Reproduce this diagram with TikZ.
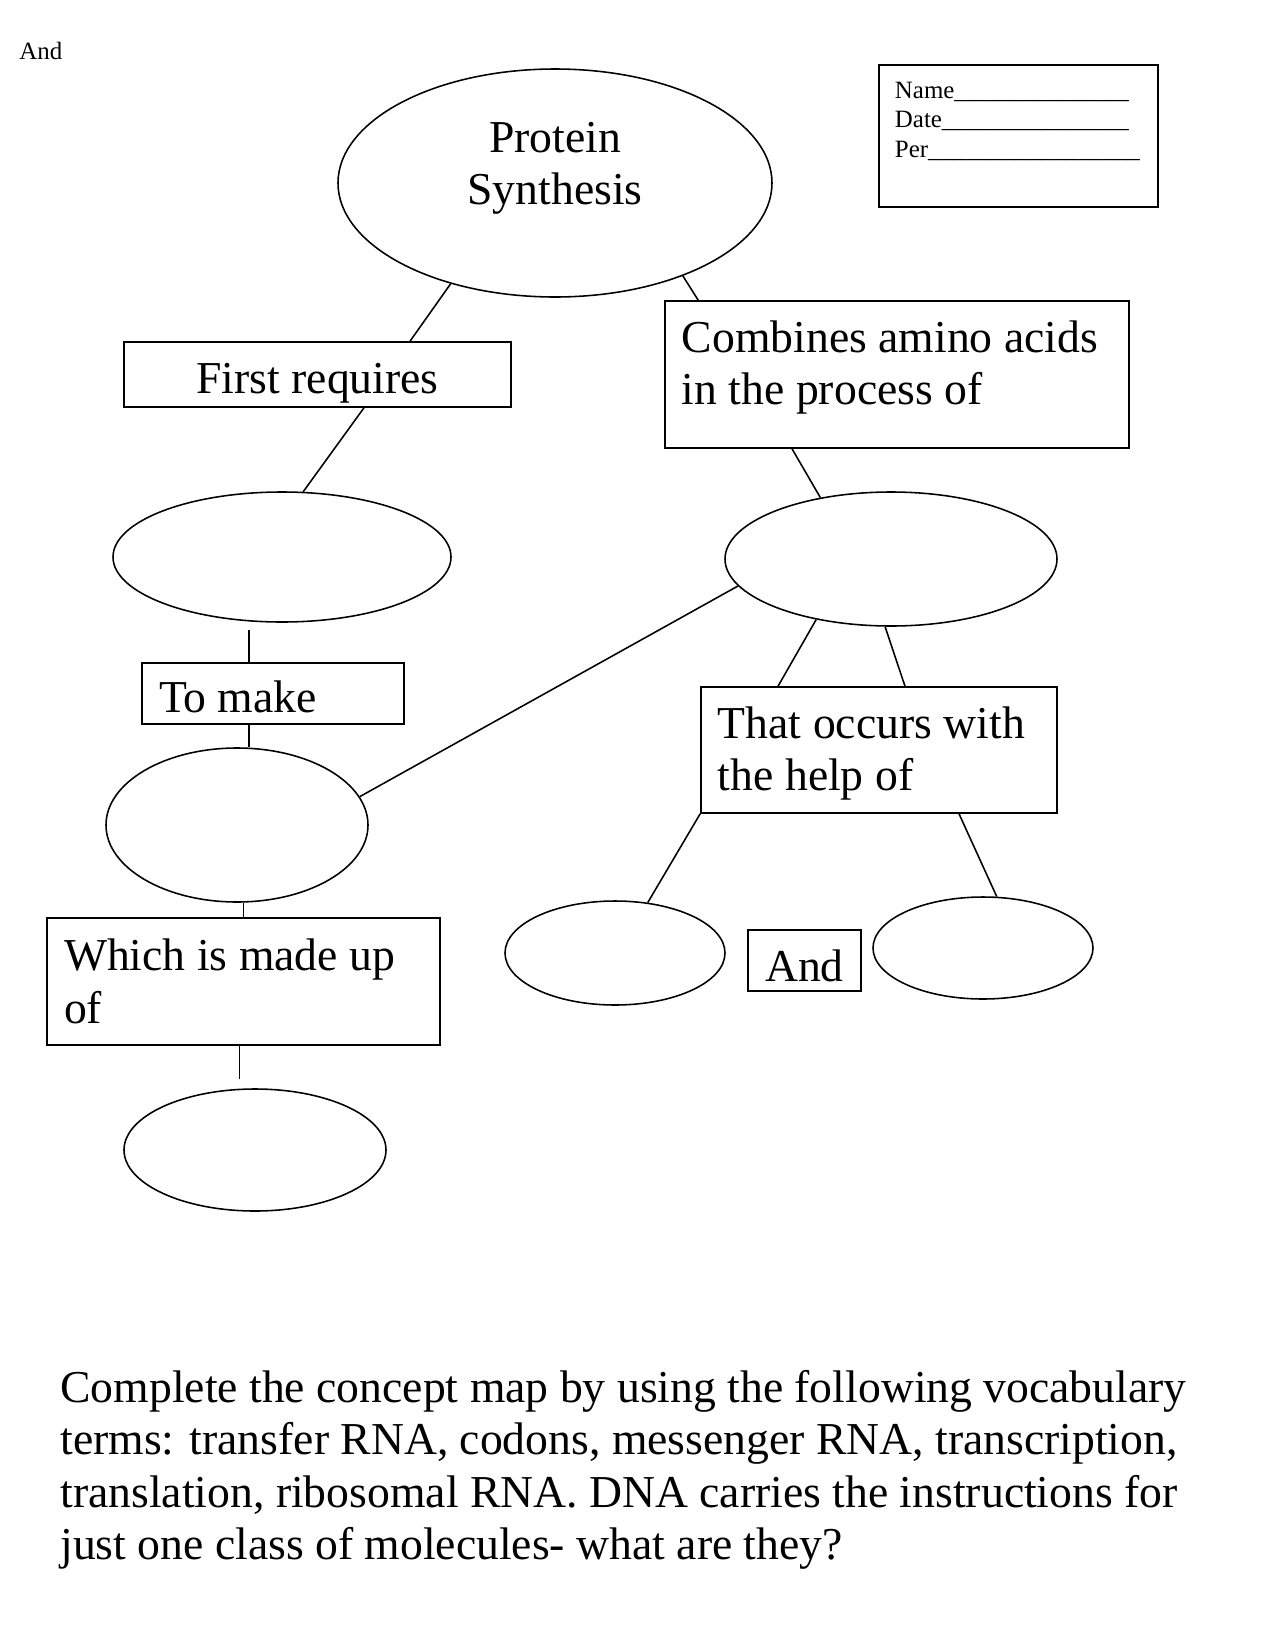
\documentclass[tikz,border=0pt]{standalone}
\usepackage{fontspec}
\setmainfont{Liberation Serif}
\usetikzlibrary{shapes.geometric, calc}

\newdimen\pxu \pxu=0.48bp
\newcommand\mapfont{\fontsize{22}{25.3}\selectfont}
\newcommand\namefont{\fontsize{12}{14.2}\selectfont}

\tikzset{
  concept/.style={ellipse, draw, line width=0.75bp, inner sep=0pt},
  linkbox/.style={rectangle, draw, line width=0.75bp, font=\mapfont,
                  inner xsep=17\pxu, inner ysep=0pt},
  leftbox/.style={linkbox, align=flush left},
  link/.style={line width=0.75bp},
}

\begin{document}
\begin{tikzpicture}[x=0.48bp, y=-0.48bp]
  \useasboundingbox (0,0) rectangle (1275,1650);

  \node[font=\namefont, anchor=west, inner sep=0pt] (corner) at (19,51) {And};
  \node[rectangle, draw, line width=0.75bp, font=\namefont, align=flush left,
        text width=118.6bp, inner xsep=16\pxu, minimum height=142\pxu,
        text depth=92\pxu] (namebox) at (1018.5,136)
    {Name\_\_\_\_\_\_\_\_\_\_\_\_\_\_\\
     Date\_\_\_\_\_\_\_\_\_\_\_\_\_\_\_\\
     Per\_\_\_\_\_\_\_\_\_\_\_\_\_\_\_\_\_};

  % concept map
  \node[concept, minimum width=434\pxu, minimum height=228\pxu, font=\mapfont,
        align=center, text depth=39\pxu] (ps) at (555,183) {Protein\\Synthesis};
  \node[linkbox, minimum width=387\pxu, minimum height=65\pxu,
        text height=48\pxu, text depth=10\pxu] (first) at (317.5,374.5)
    {First requires};
  \node[leftbox, text width=206.4bp, minimum height=147\pxu, text depth=76\pxu] (comb) at (897,374.5)
    {Combines amino acids\\in the process of};
  \node[concept, minimum width=338\pxu, minimum height=130\pxu] (l1) at (282,557) {};
  \node[concept, minimum width=332\pxu, minimum height=134\pxu] (r1) at (891,559) {};
  \node[leftbox, text width=109.4bp, minimum height=61\pxu, text height=39\pxu] (tm) at (273,693.5) {To make};
  \node[concept, minimum width=262\pxu, minimum height=154\pxu] (l2) at (237,825) {};
  \node[leftbox, text width=154.6bp, minimum height=126\pxu, text height=39\pxu] (that) at (879,750)
    {That occurs with\\the help of};
  \node[leftbox, text width=172.3bp, minimum height=127\pxu] (wm) at (243.5,981.5)
    {Which is made up\\of};
  \node[concept, minimum width=262\pxu, minimum height=122\pxu] (bot) at (255,1150) {};
  \node[concept, minimum width=220\pxu, minimum height=104\pxu] (sl) at (615,953) {};
  \node[linkbox, minimum width=113\pxu, minimum height=61\pxu, inner xsep=0pt,
        text height=43\pxu] (andb) at (804.5,960.5) {And};
  \node[concept, minimum width=220\pxu, minimum height=102\pxu] (sr) at (983,948) {};

  \coordinate (tmtop) at ($(tm.north)+(-24,0)$);
  \coordinate (tmbot) at ($(tm.south)+(-24,0)$);
  \coordinate (wmbot) at ($(wm.south)+(-4,0)$);

  % connectors
  \draw[link] (ps.224) -- ($(first.north)+(92.5,0)$);
  \draw[link] (ps.-36) -- ($(comb.north west)+(34,0)$);
  \draw[link] ($(first.south)+(46.5,0)$) -- (l1.72);
  \draw[link] ($(comb.south)+(-105,0)$) -- (r1.139);
  \draw[link, shorten <=7\pxu] (tmtop |- l1.south) -- (tmtop);
  \draw[link] (tmbot) -- (tmbot |- l2.north);
  \draw[link] (l2.13) -- (r1.190);
  \draw[link] (r1.219) -- ($(that.north)+(-101,0)$);
  \draw[link] (r1.265) -- ($(that.north)+(26,0)$);
  \draw[link] (wm.north |- l2.south) -- (wm.north);
  \draw[link, shorten >=9\pxu] (wmbot) -- (wmbot |- bot.north);
  \draw[link] (that.south west) -- (sl.57);
  \draw[link] ($(that.south)+(80,0)$) -- (sr.75);

  \node[font=\mapfont, align=flush left, anchor=west, inner sep=0pt] (task) at (60,1470)
    {Complete the concept map by using the following vocabulary\\
     terms: transfer RNA, codons, messenger RNA, transcription,\\
     translation, ribosomal RNA. DNA carries the instructions for\\
     just one class of molecules- what are they?};
\end{tikzpicture}
\end{document}
